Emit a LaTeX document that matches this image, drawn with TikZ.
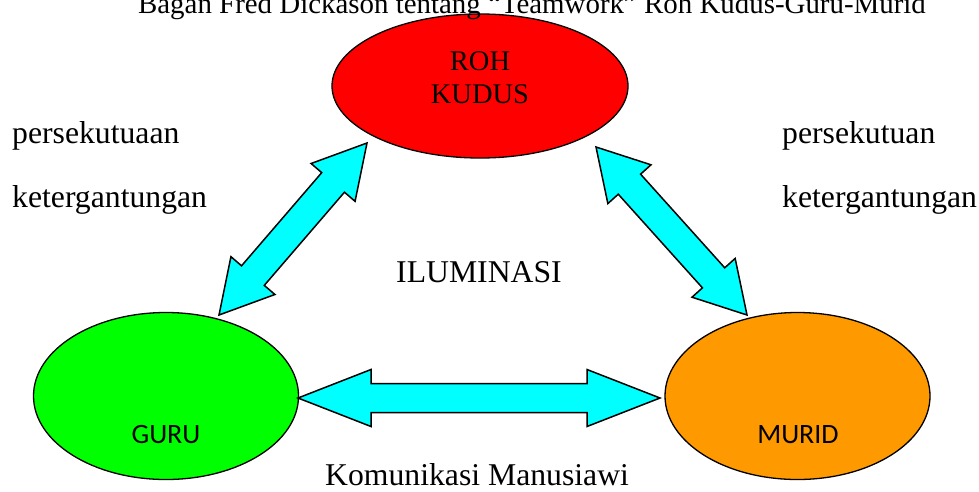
\documentclass[tikz,border=0pt]{standalone}
\usepackage{fontspec}
\setmainfont{Liberation Serif}
\newfontfamily\calibri{Carlito}
\usetikzlibrary{shapes.geometric,calc}
\definecolor{cyanfill}{RGB}{0,255,255}
\definecolor{redfill}{RGB}{255,0,0}
\definecolor{greenfill}{RGB}{0,255,0}
\definecolor{orangefill}{RGB}{255,153,0}
\tikzset{
  blob/.style={ellipse, draw=black, line width=1.3pt, inner sep=0pt},
  lbl/.style={inner sep=0pt, font=\fontsize{31.7}{38}\selectfont},
  arrowbox/.style={draw=black, fill=cyanfill, line width=1.5pt, line join=miter},
}
\newcommand{\dblarrow}[5]{%
\draw[arrowbox] (#1)
 -- ($ ($(#1)!#3!(#2)$)!#4!90:(#2) $)
 -- ($ ($(#1)!#3!(#2)$)!#5!90:(#2) $)
 -- ($ ($(#2)!#3!(#1)$)!#5!-90:(#1) $)
 -- ($ ($(#2)!#3!(#1)$)!#4!-90:(#1) $)
 -- (#2)
 -- ($ ($(#2)!#3!(#1)$)!#4!90:(#1) $)
 -- ($ ($(#2)!#3!(#1)$)!#5!90:(#1) $)
 -- ($ ($(#1)!#3!(#2)$)!#5!-90:(#2) $)
 -- ($ ($(#1)!#3!(#2)$)!#4!-90:(#2) $)
 -- cycle;}
\begin{document}
\begin{tikzpicture}[x=1pt,y=-1pt]
\useasboundingbox (0,0) rectangle (979,491);
% ellipses
\node[blob, fill=redfill, minimum width=296pt, minimum height=144pt] (roh) at (480,86) {};
\node[blob, fill=greenfill, minimum width=265pt, minimum height=167pt] (guru) at (166,396) {};
\node[blob, fill=orangefill, minimum width=265pt, minimum height=167pt] (murid) at (797.5,396) {};
% ellipse texts
\node[lbl, anchor=base, font=\fontsize{28.5}{33}\selectfont] (rohtxt) at (480,70) {ROH};
\node[lbl, anchor=base, font=\fontsize{28.5}{33}\selectfont] (kudustxt) at (480,103) {KUDUS};
\node[lbl, anchor=base, font=\calibri\fontsize{28}{33}\selectfont] (gurutxt) at (166,443) {GURU};
\node[lbl, anchor=base, font=\calibri\fontsize{28}{33}\selectfont] (muridtxt) at (798,443) {MURID};
% arrow end points
\coordinate (gl) at (219,315);
\coordinate (rl) at (367,143);
\coordinate (rr) at (596,147);
\coordinate (mr) at (747,315);
\coordinate (gh) at (298,398);
\coordinate (mh) at (660,398);
\dblarrow{gl}{rl}{52pt}{29pt}{15pt}
\dblarrow{rr}{mr}{50pt}{29pt}{15pt}
\dblarrow{gh}{mh}{73pt}{28.5pt}{14.5pt}
% texts
\node[lbl, anchor=base, font=\fontsize{28.9}{34}\selectfont] (title) at (532,13) {Bagan Fred Dickason tentang “Teamwork” Roh Kudus-Guru-Murid};
\node[lbl, anchor=base west] (p1) at (12,143) {persekutuaan};
\node[lbl, anchor=base west] (k1) at (12,207) {ketergantungan};
\node[lbl, anchor=base west] (p2) at (782,143) {persekutuan};
\node[lbl, anchor=base west] (k2) at (782,207) {ketergantungan};
\node[lbl, anchor=base west] (ilum) at (396,282) {ILUMINASI};
\node[lbl, anchor=base west] (kom) at (325,485) {Komunikasi Manusiawi};
\end{tikzpicture}
\end{document}
